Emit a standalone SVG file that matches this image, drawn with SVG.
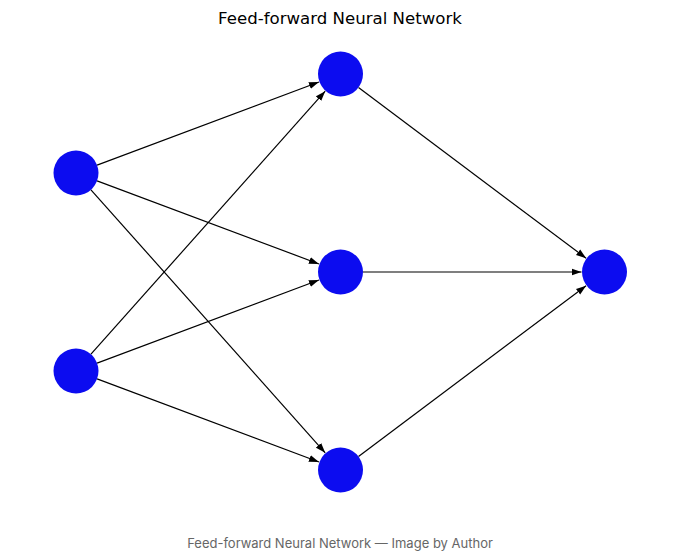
<svg xmlns="http://www.w3.org/2000/svg" width="680" height="552" viewBox="0 0 680 552">
<style>
.node{fill:#0c0cf0;}
.edge{stroke:#000;stroke-width:1.2;fill:none;marker-end:url(#ah);}
.title{font-family:"DejaVu Sans",sans-serif;font-size:16.6px;fill:#000;}
.cap{font-family:Inter,"Liberation Sans",sans-serif;font-size:13px;fill:#666;}
</style>
<defs>
<marker id="ah" markerUnits="userSpaceOnUse" markerWidth="10" markerHeight="8" refX="10" refY="4" orient="auto">
<path d="M0,0.5 L10,4 L0,7.5 z" fill="#000"/>
</marker>
</defs>
<rect width="680" height="552" fill="#fff"/>
<text class="title" x="340" y="24" text-anchor="middle">Feed-forward Neural Network</text>
<g id="connectors">
<line class="edge" x1="97.07" y1="165.11" x2="318.96" y2="82.06"/>
<line class="edge" x1="97.07" y1="180.89" x2="318.96" y2="263.94"/>
<line class="edge" x1="90.96" y1="189.80" x2="325.2" y2="452.82"/>
<line class="edge" x1="90.96" y1="354.20" x2="325.2" y2="91.18"/>
<line class="edge" x1="97.07" y1="363.11" x2="318.96" y2="280.06"/>
<line class="edge" x1="97.07" y1="378.89" x2="318.96" y2="461.94"/>
<line class="edge" x1="358.5" y1="87.5" x2="586.1" y2="258.2"/>
<line class="edge" x1="363" y1="272" x2="581.5" y2="272"/>
<line class="edge" x1="358.5" y1="456.5" x2="586.1" y2="285.8"/>
</g>
<g id="i1"><circle class="node" cx="76" cy="173" r="22.5"/></g>
<g id="i2"><circle class="node" cx="76" cy="371" r="22.5"/></g>
<g id="h1"><circle class="node" cx="340.5" cy="74" r="22.5"/></g>
<g id="h2"><circle class="node" cx="340.5" cy="272" r="22.5"/></g>
<g id="h3"><circle class="node" cx="340.5" cy="470" r="22.5"/></g>
<g id="o1"><circle class="node" cx="604.5" cy="272" r="22.5"/></g>
<text class="cap" x="340" y="548" text-anchor="middle">Feed-forward Neural Network — Image by Author</text>
</svg>
